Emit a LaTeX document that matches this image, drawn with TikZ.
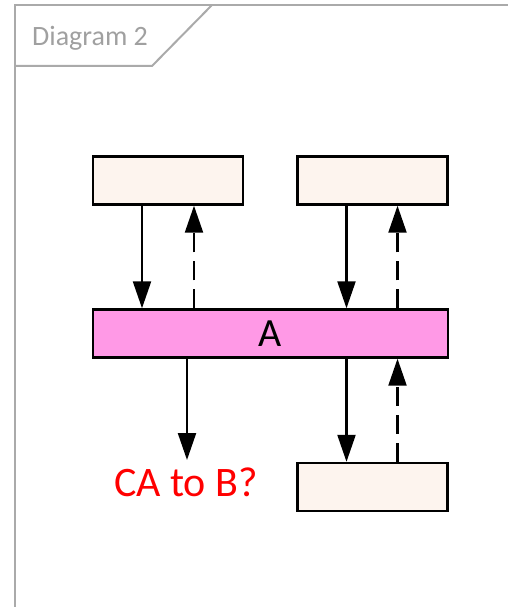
\documentclass[tikz,border=0pt]{standalone}
\usepackage{fontspec}
\setmainfont{Carlito}
\usetikzlibrary{arrows.meta}

\definecolor{framegray}{RGB}{170,170,170}
\definecolor{labelgray}{RGB}{160,160,160}
\definecolor{boxfill}{RGB}{253,244,238}
\definecolor{pinkfill}{RGB}{255,153,230}

\begin{document}
\begin{tikzpicture}[x=1pt,y=-1pt,
  box/.style={draw=black, line width=2.4pt, fill=boxfill, minimum width=150pt, minimum height=48pt, inner sep=0pt},
  flow/.style={line width=2.2pt, -{Triangle[length=27pt,width=18pt]}},
  back/.style={flow, dash pattern=on 19pt off 9pt}]
\useasboundingbox (0,0) rectangle (508,607);
% frame with name tab
\draw[line width=2pt, color=framegray](15,607) -- (15,5) -- (508,5);
\draw[line width=2pt, color=framegray](15,66) -- (152,66) -- (212,5);
\node[anchor=base west, inner sep=0pt, text=labelgray] (title) at (32,45.5) {\fontsize{28}{32}\selectfont Diagram 2};
% boxes
\node[box] (upl) at (168,180.5) {};
\node[box] (upr) at (372.5,180.5) {};
\node[box, fill=pinkfill, minimum width=355pt] (a) at (270.5,333.5) {\fontsize{40}{46}\selectfont A};
\node[box] (low) at (372.5,487) {};
% upper connectors
\draw[flow] ([xshift=-26pt]upl.south) -- ([xshift=-26pt]upl.south |- a.north);
\draw[back] ([xshift=26pt]upl.south |- a.north) -- ([xshift=26pt]upl.south);
\draw[flow] ([xshift=-26pt]upr.south) -- ([xshift=-26pt]upr.south |- a.north);
\draw[back] ([xshift=25pt]upr.south |- a.north) -- ([xshift=25pt]upr.south);
% lower connectors
\coordinate (tipb) at (187,460);
\draw[flow] (a.south -| tipb) -- (tipb);
\node[anchor=base, inner sep=0pt, text=red] (ask) at (186,496.5) {\fontsize{42}{48}\selectfont CA to B?};
\draw[flow] ([xshift=-26pt]low.north |- a.south) -- ([xshift=-26pt]low.north);
\draw[back] ([xshift=25pt]low.north) -- ([xshift=25pt]low.north |- a.south);
\end{tikzpicture}
\end{document}
